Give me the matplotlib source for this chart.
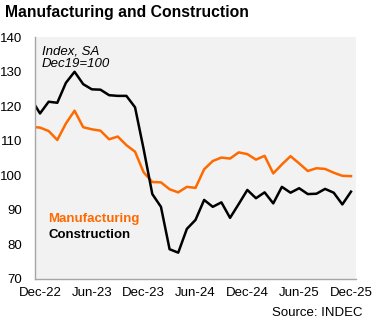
import matplotlib

matplotlib.use("Agg")
import matplotlib.pyplot as plt

plt.rcParams["font.family"] = ["Liberation Sans", "DejaVu Sans"]

# Monthly index, SA, Dec19=100 (Nov-22 .. Dec-25)
months = [
    "Nov-22", "Dec-22", "Jan-23", "Feb-23", "Mar-23", "Apr-23", "May-23", "Jun-23",
    "Jul-23", "Aug-23", "Sep-23", "Oct-23", "Nov-23", "Dec-23", "Jan-24", "Feb-24",
    "Mar-24", "Apr-24", "May-24", "Jun-24", "Jul-24", "Aug-24", "Sep-24", "Oct-24",
    "Nov-24", "Dec-24", "Jan-25", "Feb-25", "Mar-25", "Apr-25", "May-25", "Jun-25",
    "Jul-25", "Aug-25", "Sep-25", "Oct-25", "Nov-25", "Dec-25",
]
manufacturing = [
    114.0, 113.8, 112.8, 110.2, 115.0, 118.7, 113.9, 113.3,
    112.9, 110.4, 111.2, 108.7, 106.8, 100.8, 98.0, 97.9,
    95.9, 95.0, 96.6, 96.3, 101.7, 104.1, 105.1, 104.8,
    106.6, 106.1, 104.5, 105.6, 100.5, 103.1, 105.5, 103.4,
    101.2, 102.0, 101.8, 100.7, 99.8, 99.7,
]
construction = [
    122.0, 117.9, 121.3, 121.0, 126.8, 130.0, 126.4, 124.9,
    124.8, 123.2, 123.0, 123.0, 119.7, 107.5, 94.5, 90.8,
    78.5, 77.5, 84.4, 87.0, 92.8, 90.8, 92.1, 87.6,
    91.6, 95.7, 93.3, 95.0, 91.8, 96.6, 94.9, 96.2,
    94.5, 94.6, 96.0, 94.9, 91.5, 95.2,
]
tick_labels = ["Dec-22", "Jun-23", "Dec-23", "Jun-24", "Dec-24", "Jun-25", "Dec-25"]
y_ticks = [70, 80, 90, 100, 110, 120, 130, 140]

W, H = 374, 324
fig = plt.figure(figsize=(W / 100, H / 100), dpi=100)


def px(x, y):
    """Pixel position (from top-left) to figure fraction."""
    return x / W, 1 - y / H


left, top = px(35, 37.3)
right, bottom = px(356, 278.5)
ax = fig.add_axes([left, bottom, right - left, top - bottom])
ax.set_facecolor("#f2f2f2")

x = list(range(-1, len(months) - 1))
orange = "#ff6a00"
ax.plot(x, manufacturing, color=orange, linewidth=1.8)
ax.plot(x, construction, color="black", linewidth=1.8)

ax.set_xlim(-0.58, 36.58)
ax.set_ylim(70, 140)
ax.set_xticks([tick_labels.index(t) * 6 for t in tick_labels])
ax.set_xticklabels(tick_labels)
ax.set_yticks(y_ticks)

for side in ("top", "right"):
    ax.spines[side].set_visible(False)
for side in ("left", "bottom"):
    ax.spines[side].set_color("#a6a6a6")
    ax.spines[side].set_linewidth(1.0)
ax.tick_params(axis="y", length=0, pad=9, labelsize=9.5)
ax.tick_params(axis="x", length=0, pad=6, labelsize=9.5)

fig.text(*px(5, 12.5), "Manufacturing and Construction", fontsize=11.3,
         fontweight="bold", va="center", ha="left")
fig.text(*px(42, 51), "Index, SA", fontsize=9.5, style="italic", va="center")
fig.text(*px(42, 64), "Dec19=100", fontsize=9.5, style="italic", va="center")
fig.text(*px(48, 219), "Manufacturing", fontsize=9.5, fontweight="bold",
         color=orange, va="center")
fig.text(*px(48, 235), "Construction", fontsize=9.5, fontweight="bold",
         color="black", va="center")
fig.text(*px(363, 313), "Source: INDEC", fontsize=9.5, ha="right", va="center")

fig.savefig("out.png", dpi=100)
